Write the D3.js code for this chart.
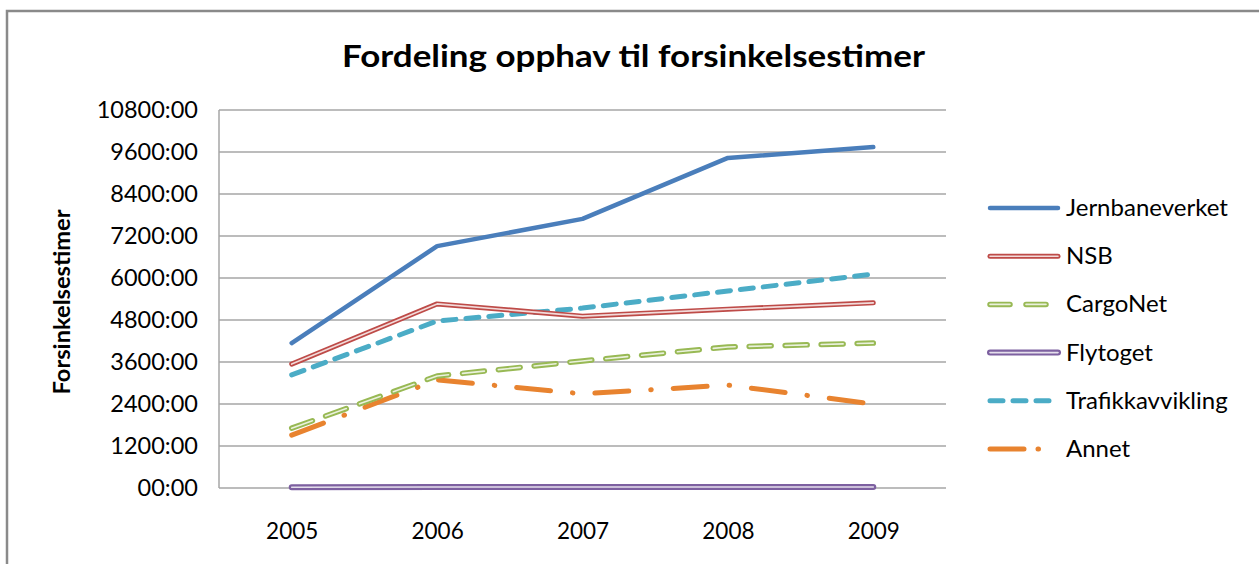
<!DOCTYPE html>
<html>
<head>
<meta charset="utf-8">
<script src="https://cdn.jsdelivr.net/npm/d3@7"></script>
<style>
  body { margin: 0; background: #fff; }
  svg { display: block; font-family: Lato, "Open Sans", sans-serif; }
</style>
</head>
<body>
<div id="chart"></div>
<script>
var svgWidth = 1259;
var svgHeight = 564;

// data (hours)
var years = ["2005", "2006", "2007", "2008", "2009"];
var jernbaneverket = [4140, 6910, 7690, 9430, 9740];
var nsb = [3540, 5260, 4910, 5110, 5290];
var cargoNet = [1710, 3200, 3630, 4030, 4140];
var flytoget = [20, 30, 30, 30, 30];
var trafikkavvikling = [3230, 4770, 5140, 5630, 6110];
var annet = [1510, 3090, 2690, 2940, 2400];
var yTicks = [0, 1200, 2400, 3600, 4800, 6000, 7200, 8400, 9600, 10800];

var series = [
  {name: "Jernbaneverket", values: jernbaneverket, color: "#4A7EBB", width: 4.5, dash: null, inner: false},
  {name: "NSB", values: nsb, color: "#BE4B48", width: 5, dash: null, inner: true},
  {name: "CargoNet", values: cargoNet, color: "#98B954", width: 5.5, dash: "22,14", inner: true},
  {name: "Flytoget", values: flytoget, color: "#7D60A0", width: 6, dash: null, inner: true},
  {name: "Trafikkavvikling", values: trafikkavvikling, color: "#4BACC6", width: 5, dash: "13,10", inner: false},
  {name: "Annet", values: annet, color: "#E8832F", width: 5, dash: "34,22,0.5,22", inner: false}
];

var margin = {top: 110, left: 219, right: 313, bottom: 76};
var width = svgWidth - margin.left - margin.right;
var height = svgHeight - margin.top - margin.bottom;

var svg = d3.select("#chart")
  .append("svg")
  .attr("width", svgWidth)
  .attr("height", svgHeight);

// outer frame
svg.append("path")
  .attr("d", "M7," + svgHeight + " V11 H" + svgWidth)
  .attr("fill", "none")
  .attr("stroke", "#8a8a8a")
  .attr("stroke-width", 2.5);

svg.append("text")
  .attr("x", 342)
  .attr("y", 67)
  .attr("font-size", "31px")
  .attr("font-weight", "bold")
  .attr("textLength", 583)
  .attr("lengthAdjust", "spacingAndGlyphs")
  .text("Fordeling opphav til forsinkelsestimer");

var g = svg.append("g")
  .attr("transform", `translate(${margin.left}, ${margin.top})`);

var x = d3.scalePoint()
  .domain(years)
  .range([0, width])
  .padding(0.5);

var y = d3.scaleLinear()
  .domain([0, 10800])
  .range([height, 0]);

// gridlines
g.selectAll(".grid")
  .data(yTicks)
  .enter()
  .append("line")
  .attr("x1", 0)
  .attr("x2", width)
  .attr("y1", d => y(d))
  .attr("y2", d => y(d))
  .attr("stroke", "#a6a6a6")
  .attr("stroke-width", 1.5);

g.append("line")
  .attr("x1", 0).attr("x2", 0)
  .attr("y1", 0).attr("y2", height)
  .attr("stroke", "#a6a6a6")
  .attr("stroke-width", 1.5);

var yAxis = d3.axisLeft(y)
  .tickValues(yTicks)
  .tickSize(0)
  .tickPadding(21)
  .tickFormat(d => (d === 0 ? "00" : d) + ":00");

g.append("g")
  .call(yAxis)
  .call(a => a.select(".domain").remove())
  .selectAll("text")
  .attr("font-family", "Lato, sans-serif")
  .attr("font-size", "23.5px")
  .attr("fill", "#000");

var xAxis = d3.axisBottom(x).tickSize(0).tickPadding(35);

g.append("g")
  .attr("transform", `translate(0, ${height})`)
  .call(xAxis)
  .call(a => a.select(".domain").remove())
  .selectAll("text")
  .attr("font-family", "Lato, sans-serif")
  .attr("font-size", "22.5px")
  .attr("fill", "#000");

svg.append("text")
  .attr("transform", "translate(70, 302) rotate(-90)")
  .attr("text-anchor", "middle")
  .attr("font-size", "23px")
  .attr("font-weight", "bold")
  .attr("textLength", 185)
  .attr("lengthAdjust", "spacingAndGlyphs")
  .text("Forsinkelsestimer");

var line = d3.line()
  .x((d, i) => x(years[i]))
  .y(d => y(d));

// draw lines, bottom series first so the order matches the picture
var drawOrder = [3, 5, 2, 4, 1, 0];
drawOrder.forEach(function(k) {
  var s = series[k];
  g.append("path")
    .attr("d", line(s.values))
    .attr("fill", "none")
    .attr("stroke", s.color)
    .attr("stroke-width", s.width)
    .attr("stroke-linecap", "round")
    .attr("stroke-linejoin", "round")
    .attr("stroke-dasharray", s.dash);
  if (s.inner) {
    g.append("path")
      .attr("d", line(s.values))
      .attr("fill", "none")
      .attr("stroke", "#fff")
      .attr("stroke-width", 1.6)
      .attr("stroke-linecap", "round")
      .attr("stroke-linejoin", "round")
      .attr("stroke-dasharray", s.dash)
      .attr("opacity", 0.8);
  }
});

// legend
var legend = svg.append("g")
  .attr("transform", "translate(990, 208)");

var rows = legend.selectAll(".row")
  .data(series)
  .enter()
  .append("g")
  .attr("transform", (d, i) => `translate(0, ${i * 48.2})`);

rows.append("line")
  .attr("x1", 0).attr("x2", 68)
  .attr("stroke", d => d.color)
  .attr("stroke-width", d => d.width)
  .attr("stroke-linecap", "round")
  .attr("stroke-dasharray", d => d.name === "Annet" ? "34,14,0.5,30" : d.name === "CargoNet" ? "20,16,20,40" : d.dash);

rows.filter(d => d.inner)
  .append("line")
  .attr("x1", 0).attr("x2", 68)
  .attr("stroke", "#fff")
  .attr("stroke-width", 1.6)
  .attr("stroke-linecap", "round")
  .attr("stroke-dasharray", d => d.name === "CargoNet" ? "20,16,20,40" : null)
  .attr("opacity", 0.8);

rows.append("text")
  .attr("x", 76)
  .attr("y", 8)
  .attr("font-size", "24px")
  .text(d => d.name);
</script>
</body>
</html>
